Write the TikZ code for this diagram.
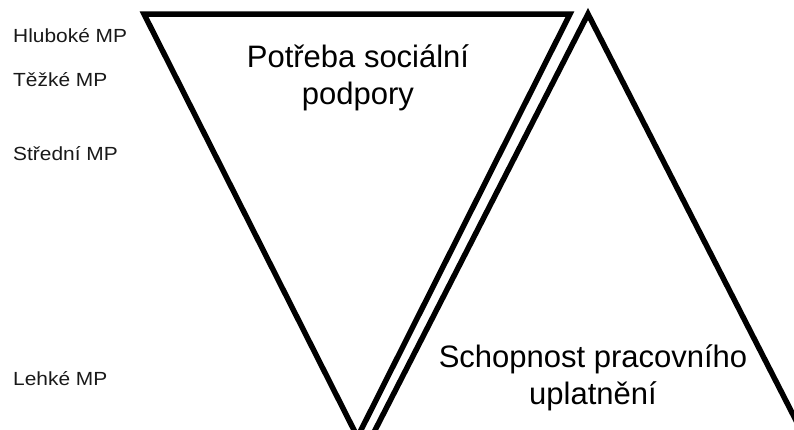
\documentclass[tikz,border=0pt]{standalone}
\usepackage{fontspec}
\setmainfont{Liberation Sans}
\begin{document}
\begin{tikzpicture}[x=1pt,y=-1pt,
  edge/.style={line width=5.5pt, line join=miter, black},
  level/.style={anchor=base west, inner sep=0pt, text=black!90,
    font=\fontsize{19}{22}\selectfont, xscale=1.1},
  title/.style={align=center, inner sep=0pt, text=black,
    font=\fontsize{31}{37}\selectfont}]
\useasboundingbox (0,0) rectangle (794,429);
\fill[white] (0,0) rectangle (794,429);
\begin{scope}
\clip (0,0) rectangle (794,429);
% inverted triangle: need for social support
\coordinate (nl) at (144,14);
\coordinate (nr) at (570,14);
\coordinate (nb) at (357.5,437);
\draw[edge] (nb) -- (nl) -- (nr) -- cycle;
% upright triangle: ability to work
\coordinate (wt) at (588,14);
\coordinate (wl) at (370,440);
\coordinate (wr) at (806,440);
\draw[edge] (wl) -- (wt) -- (wr);
\end{scope}
% levels of intellectual disability
\node[level] (hl) at (13,42.5) {Hluboké MP};
\node[level] (tz) at (13,86) {Těžké MP};
\node[level] (st) at (13,160) {Střední MP};
\node[level] (le) at (13,385) {Lehké MP};
% triangle captions
\node[title] (need) at (358,78) {Potřeba sociální\\podpory};
\node[title] (work) at (593,378) {Schopnost pracovního\\uplatnění};
\end{tikzpicture}
\end{document}
